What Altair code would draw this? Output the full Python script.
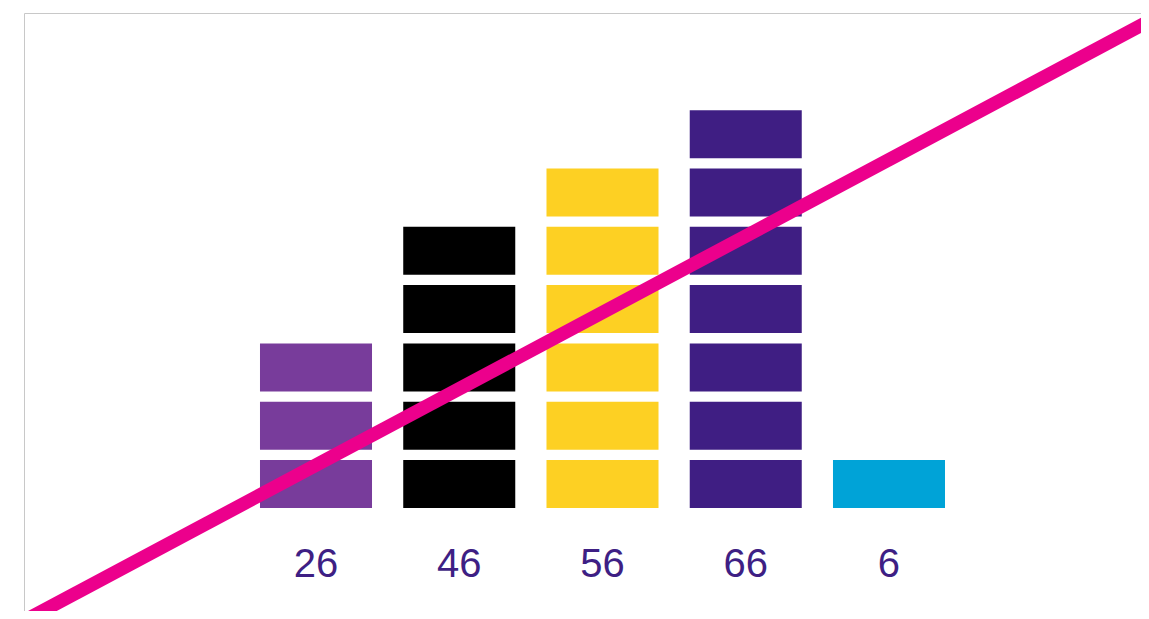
import altair as alt
import pandas as pd

# ---- data ----
categories = ["26", "46", "56", "66", "6"]
counts = [3, 5, 6, 7, 1]
colors = ["#783c9b", "#000000", "#fdd023", "#3f1e83", "#00a3d7"]

# trend line end points (data units of the chart's scales)
line_x = [-2.21, 5.89]
line_y = [-2.16, 8.45]

# ---- scales / styling ----
X_DOMAIN = [-2.0384, 5.7592]
Y_DOMAIN = [-1.7667, 8.4906]
BLOCK_W = 0.782     # block width in x units
BLOCK_H = 0.8233    # block height in y units
LABEL_Y = -1.1835

rows = []
for i, (cat, n, col) in enumerate(zip(categories, counts, colors)):
    for k in range(n):
        rows.append({"cat": cat, "idx": i, "x0": i - BLOCK_W / 2, "x1": i + BLOCK_W / 2,
                     "y0": k, "y1": k + BLOCK_H, "color": col})
blocks = pd.DataFrame(rows)
labels = pd.DataFrame({"cat": categories, "idx": list(range(len(categories)))})
trend = pd.DataFrame({"x": line_x, "y": line_y})

xs = alt.Scale(domain=X_DOMAIN, nice=False, zero=False)
ys = alt.Scale(domain=Y_DOMAIN, nice=False, zero=False)

border_axis = dict(domain=True, domainColor="#c8c8c8", domainWidth=1, ticks=False,
                   labels=False, grid=False, title=None)
x_axis = alt.Axis(orient="top", **border_axis)
y_axis = alt.Axis(orient="left", **border_axis)

rects = alt.Chart(blocks).mark_rect().encode(
    x=alt.X("x0:Q", scale=xs, axis=x_axis),
    x2="x1:Q",
    y=alt.Y("y0:Q", scale=ys, axis=y_axis),
    y2="y1:Q",
    color=alt.Color("color:N", scale=None),
)

text = alt.Chart(labels).transform_calculate(
    ly=str(LABEL_Y)
).mark_text(
    font="Liberation Sans", fontSize=40, color="#3e1f84", baseline="alphabetic", align="center"
).encode(
    x=alt.X("idx:Q", scale=xs, axis=x_axis),
    y=alt.Y("ly:Q", scale=ys, axis=y_axis),
    text="cat:N",
)

line = alt.Chart(trend).mark_line(color="#ec008c", strokeWidth=13.5, clip=False).encode(
    x=alt.X("x:Q", scale=xs, axis=x_axis),
    y=alt.Y("y:Q", scale=ys, axis=y_axis),
)

chart = alt.layer(rects, text, line).properties(
    width=1117, height=598,
    autosize=alt.AutoSizeParams(type="none"),
    padding={"left": 16, "top": 5, "right": 0, "bottom": 0},
).configure_view(stroke=None)

chart.save("out.html", embed_options={"renderer": "svg", "actions": False})
